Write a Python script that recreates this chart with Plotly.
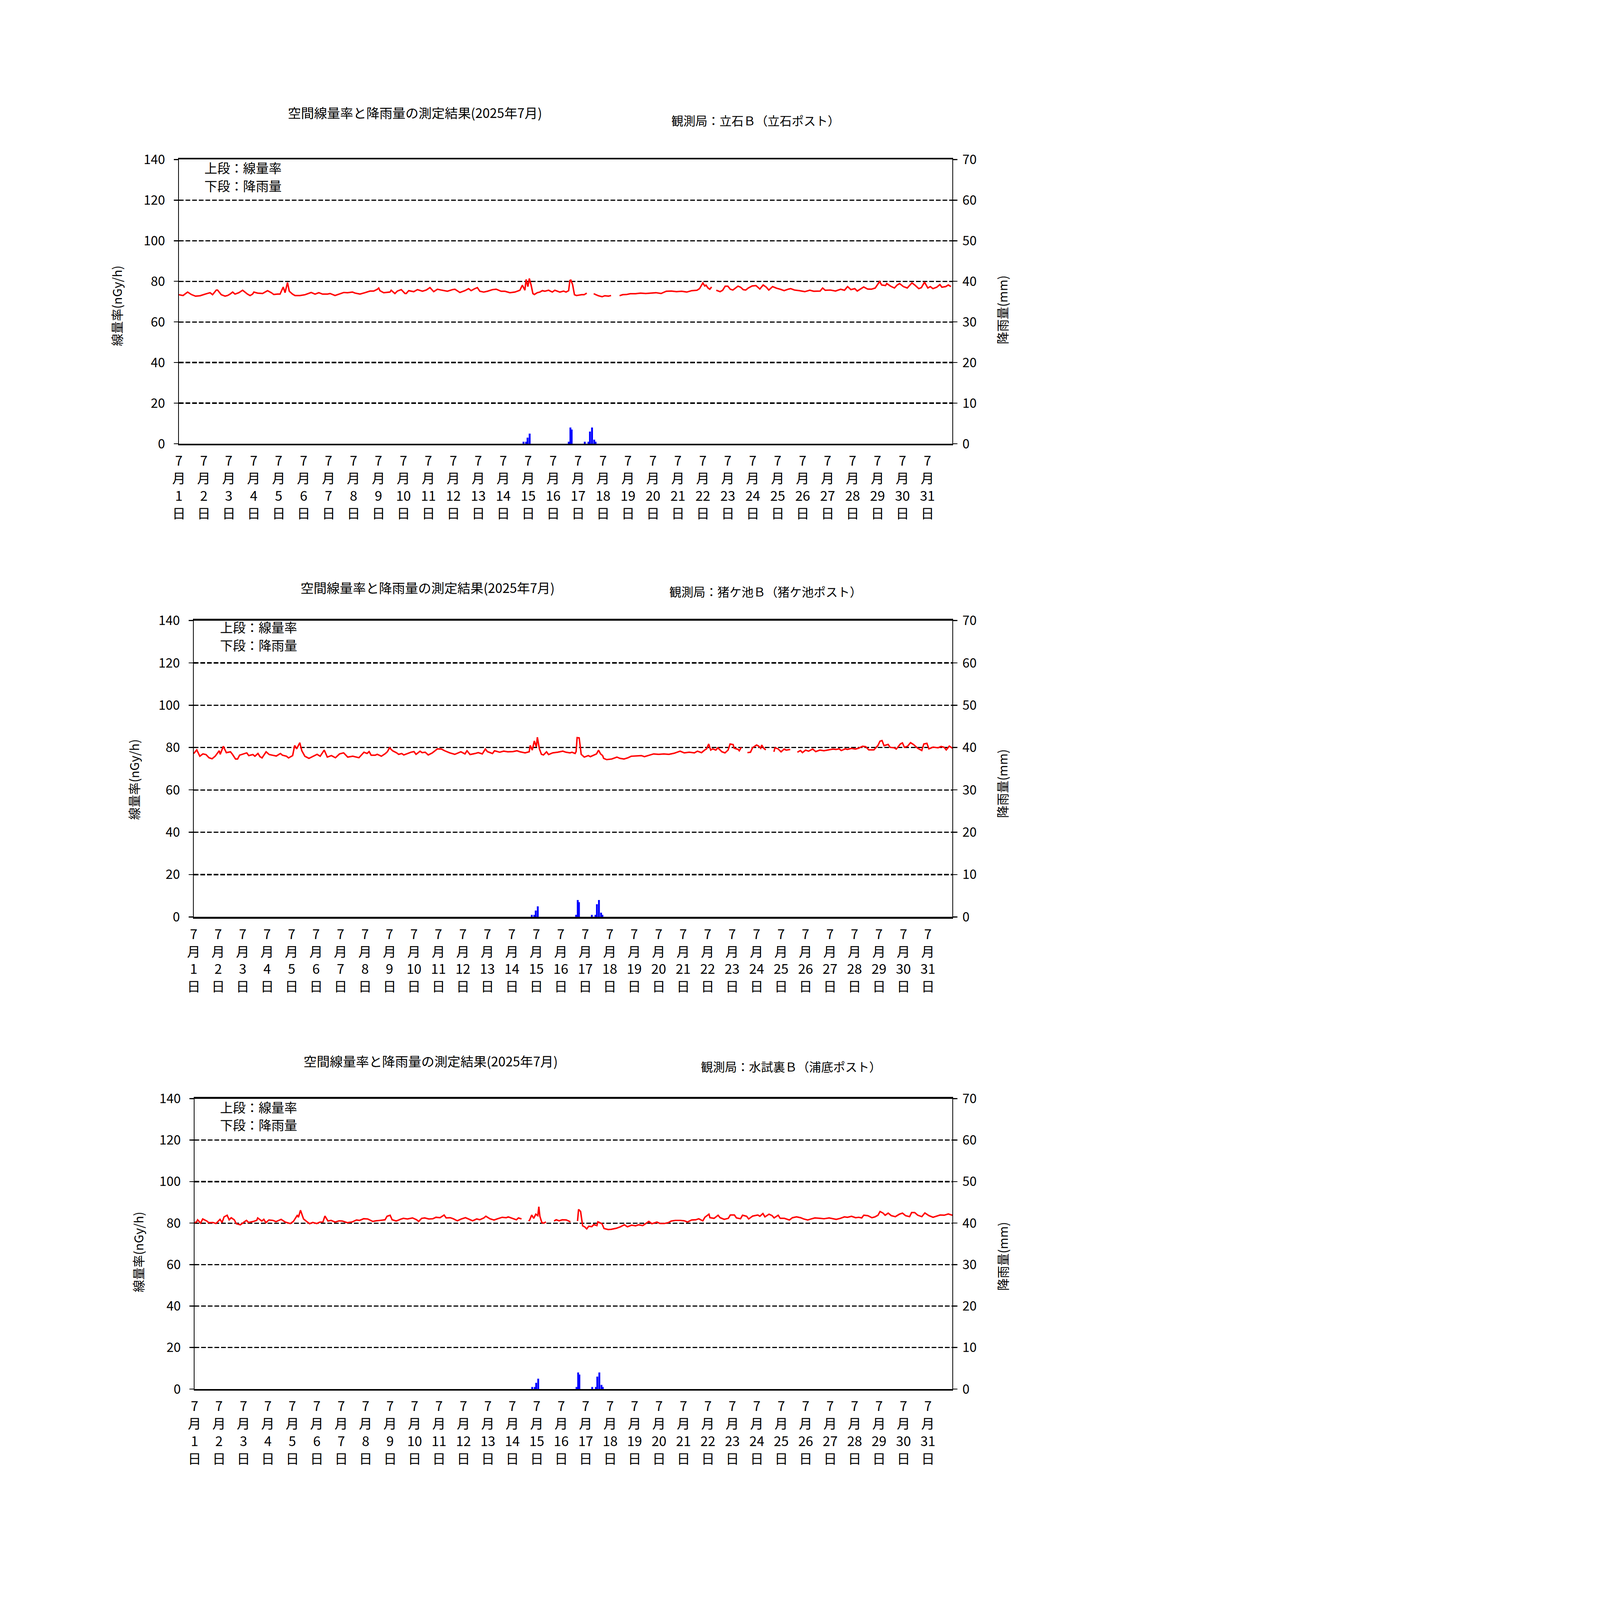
import plotly.graph_objects as go

W, H = 5452, 7710
FONT = "Noto Sans CJK JP"

TITLE = "空間線量率と降雨量の測定結果(2025年7月)"
STATIONS = ["観測局：立石Ｂ（立石ポスト）", "観測局：猪ケ池Ｂ（猪ケ池ポスト）", "観測局：水試裏Ｂ（浦底ポスト）"]
LEGEND_TOP = "上段：線量率"
LEGEND_BOTTOM = "下段：降雨量"
Y_LEFT_TITLE = "線量率(nGy/h)"
Y_RIGHT_TITLE = "降雨量(mm)"

DAYS = list(range(1, 32))
TICK_HOURS = [(d - 1) * 24 for d in DAYS]
TICK_TEXT = ["7<br>月<br>%d<br>日" % d for d in DAYS]

# ---- 立石B : hours from 7/1 00:00, dose rate nGy/h (None = missing) ----
HOURS_1 = [0, 4, 8.4, 12, 16, 20.4, 25.2, 30, 32.4, 36, 37.2, 40.8, 44.4, 46.8, 49.2, 51.7, 54, 57.7,
           61.3, 63.7, 66, 68.5, 70.9, 72.1, 75.7, 80.5, 85.3, 88.9, 91.3, 94.9, 97.3, 100.4, 102.1,
           104.5, 106.2, 109.3, 111.7, 116.5, 118.9, 121.3, 127.3, 131, 134.6, 138.2, 143, 145.4,
           150.2, 155, 158.6, 162.2, 167, 169.4, 174.2, 179, 183.8, 187.4, 191, 192.2, 193.4, 197,
           203, 204.2, 207.8, 210.2, 213.9, 217.5, 218.7, 221.1, 225.9, 229.5, 234.3, 237.9, 241.5,
           245.1, 248.7, 252.3, 258.3, 263.1, 265.5, 270.3, 275.1, 278.7, 281.1, 284.7, 287.1, 289.5,
           293.2, 296.8, 301.6, 305.2, 310, 313.6, 318.4, 323.2, 328, 330.4, 332.8, 334, 335.7, 337.1,
           338.8, 340.5, 341.9, 344.8, 347.2, 349.6, 352, 355.6, 359.2, 361.6, 366.4, 370, 372.4,
           374.9, 376.1, 377, 378.7, 380.5, 382.4, 384.9, 387.4, 389.8, 392.3, 395,
           399, 400.9, 403.4, 407.1, 409.6, 413.3, 415.7, 420,
           423.9, 426.8, 430.5, 434.2, 439.2, 444.1, 449, 454, 458.9, 463.8, 468.8, 473.7, 478.6,
           483.6, 488.5, 493.4, 498.4, 500.8, 504, 505.8, 507, 509, 510.7, 512.4, 514,
           516.9, 520.6, 523, 525.5, 528, 530.4, 532.9, 535.4, 537.8, 540.3, 542.8, 545.2, 547.7,
           551.4, 555.1, 558.8, 562, 565, 567.4, 571.1, 574.8, 578.5, 582.2, 585.9, 588.4, 592.1,
           597, 602, 606.9, 610.6, 616.8, 619.2, 621.7, 626.6, 631.6, 636.5, 640.2, 643.2, 646.4,
           650.1, 652.5, 656.2, 658.7, 662.4, 666.1, 669.8, 672.3, 674, 676, 679.7, 680.9, 684.6,
           688.3, 690.8, 693.2, 696.9, 700.6, 705.1, 708, 711.7, 714.2, 717.2, 720.4, 722.8, 725.3,
           729, 732, 733.9, 737.6, 740.1, 742.6]
DOSE_1 = [73.4, 73.0, 74.7, 73.5, 72.7, 72.9, 73.7, 74.4, 73.4, 75.7, 75.7, 73.4, 72.7, 73.0, 73.7, 74.7, 73.7, 74.4,
          75.6, 74.7, 73.7, 73.0, 73.7, 74.7, 74.2, 74.0, 75.4, 74.4, 73.5, 73.7, 73.7, 77.2, 74.4,
          79.4, 75.1, 73.7, 73.0, 73.0, 73.2, 73.4, 74.5, 73.7, 74.4, 73.7, 73.7, 74.0,
          73.0, 73.9, 74.5, 74.4, 74.7, 74.2, 73.7, 74.4, 75.2, 75.2, 76.1, 76.7, 75.4, 74.4,
          74.7, 75.6, 74.0, 75.2, 75.9, 74.0, 74.0, 75.4, 74.9, 75.9, 75.1, 75.7, 76.9,
          74.9, 76.1, 75.7, 75.1, 75.9, 76.1, 74.5, 75.4, 76.4, 75.4, 76.4, 76.9, 75.1,
          74.7, 75.1, 75.9, 76.1, 75.1, 75.1, 74.4, 74.7, 75.6, 78.1, 75.6, 80.9, 77.4, 81.4,
          78.1, 74.0, 73.5, 74.4, 74.7, 75.4, 75.1, 75.6, 74.7, 75.6, 74.7, 75.2, 74.7,
          75.4, 80.4, 80.6, 78.4, 73.4, 73.0, 73.2, 73.4, 73.4, 74.2, None,
          73.9, 73.4, 72.9, 72.4, 72.9, 72.7, 73.0, None,
          72.9, 73.4, 73.5, 73.9, 73.9, 74.2, 74.0, 74.2, 74.4, 74.0, 75.1, 75.2, 74.9,
          75.1, 74.7, 75.4, 75.6, 76.4, 79.2, 77.7, 78.1, 76.7, 76.1, 77.2, None,
          75.6, 74.9, 75.6, 77.6, 77.6, 76.1, 75.7, 76.7, 77.6, 77.1, 75.9, 75.7, 76.7,
          77.7, 77.9, 76.2, 78.2, 77.1, 75.7, 77.4, 76.6, 76.1, 75.4, 76.1, 76.4, 75.7,
          75.4, 74.9, 75.6, 75.1, 75.2, 76.7, 75.6, 75.7, 75.2, 76.1, 75.6, 77.4, 75.9,
          76.4, 75.2, 76.4, 77.2, 76.2, 76.1, 76.7, 78.8, 79.9, 78.2, 77.9, 78.9, 77.6,
          76.7, 78.1, 78.9, 77.4, 76.7, 79.2, 78.1, 76.4, 76.9, 79.6, 76.7, 77.4, 76.4,
          77.1, 78.4, 77.1, 77.4, 78.2, 77.4]

# ---- 猪ケ池B ----
HOURS_2 = [0, 3, 6, 9, 12, 15, 18, 21, 25, 26, 29, 32, 36, 38, 41, 43, 45, 48, 52, 54, 58, 60, 63, 65, 67,
           71, 74, 77, 81, 85, 87, 91, 93, 97, 99, 101, 104, 106, 109, 113, 118, 121, 124, 128, 131,
           135, 139, 143, 147, 151, 156, 162, 167, 170, 172, 174, 178, 180, 184, 188, 190, 192, 195,
           199, 201, 204, 206, 210, 213, 216, 218, 222, 224, 227, 230, 234, 239, 243, 246, 251, 256,
           262, 266, 268, 271, 276, 279, 283, 286, 288, 291, 293, 295, 300, 304, 308, 313, 317, 320,
           325, 329, 330, 332, 334, 336, 337, 339, 341, 343, 346, 348, 352, 357, 362, 365, 369, 371,
           374, 375, 376, 378, 380, 383, 387, 389, 393, 395, 397, 399, 401, 402, 405, 410, 415, 418,
           422, 426, 429, 434, 439, 442, 447, 451, 456, 461, 466, 471, 477, 481, 486, 491, 494, 498,
           501, 503, 505, 507, 509, 512, 514, 518, 521, 524, 526, 529, 530, 534, 535, 537, 540,
           543, 546, 548, 552, 554, 556, 557, 559, 561, 565,
           569, 570, 573, 576, 579, 581, 585, 588,
           592, 595, 597, 600, 603, 607, 610, 614, 618, 622, 627, 630, 633, 635, 639, 641, 645, 649,
           652, 656, 659, 662, 667, 671, 673, 675, 677, 681, 683, 687, 689, 693, 695, 697, 700, 703,
           706, 710, 714, 716, 719, 721, 725, 730, 733, 736, 738, 741, 744]
DOSE_2 = [77.2, 78.9, 75.9, 77.0, 76.7, 75.2, 74.7, 75.9, 78.5, 76.8, 80.6, 77.6, 78.0, 76.8, 74.6, 74.6, 76.4, 76.8, 77.5, 76.2, 76.7, 75.9, 77.2, 75.7, 75.1,
          78.0, 76.7, 76.4, 76.0, 77.2, 76.4, 75.9, 75.1, 76.2, 81.0, 79.4, 82.3, 78.5, 75.9, 74.9, 76.2, 76.8, 75.9, 78.8, 75.5,
          76.2, 75.2, 77.0, 77.5, 75.5, 75.9, 75.2, 77.8, 77.2, 78.1, 76.4, 76.4, 76.8, 75.9, 77.2, 78.1, 79.9, 78.5,
          77.5, 76.8, 77.2, 76.5, 77.2, 77.8, 78.1, 76.8, 78.3, 77.6, 77.8, 76.5, 77.5, 79.4, 79.3, 78.5, 77.5, 76.8,
          78.0, 77.0, 78.5, 76.7, 77.2, 77.6, 77.0, 79.3, 78.1, 77.5, 77.2, 78.5, 77.8, 78.3, 78.0, 78.1, 78.5, 78.0,
          77.5, 78.0, 81.0, 78.8, 83.1, 80.4, 84.9, 79.4, 76.8, 76.5, 78.0, 76.7, 77.5, 77.8, 78.3, 77.8, 77.5, 77.8,
          77.2, 78.1, 84.7, 84.6, 76.8, 75.5, 76.2, 75.7, 76.5, 77.0, 78.8, 77.0, 76.2, 74.9, 74.3, 74.6, 75.5, 74.9,
          74.6, 75.2, 75.9, 76.0, 76.2, 75.7, 76.5, 77.0, 76.8, 77.0, 76.8, 77.3, 78.3, 77.5, 77.8, 77.5, 78.3, 77.6,
          78.8, 79.4, 81.7, 78.8, 79.4, 78.8, 79.9, 78.0, 77.5, 78.8, 81.7, 81.4, 79.7, 79.1, 78.5, 80.1, None,
          77.6, 77.8, 79.9, 81.2, 80.7, 79.7, 81.2, 79.7, 78.9, None,
          78.0, 79.9, 79.4, 78.0, 79.3, 78.8, 79.1, None,
          77.8, 78.6, 77.6, 78.8, 78.3, 79.3, 78.1, 78.8, 78.5, 78.8, 79.3, 79.1, 79.4, 78.6, 79.4, 79.1, 79.6, 79.3,
          79.7, 80.6, 80.4, 78.9, 78.9, 81.0, 83.0, 83.3, 80.9, 81.5, 80.1, 79.9, 79.3, 81.7, 82.2, 80.1, 80.6, 82.3,
          81.4, 79.7, 78.6, 81.7, 82.0, 79.4, 80.2, 79.9, 80.5, 80.1, 78.9, 80.7, 79.7]

# ---- 水試裏B ----
HOURS_3 = [0, 2, 3, 6, 8, 12, 14, 18, 21, 25, 27, 29, 32, 34, 36, 39, 41, 45, 48, 51, 53, 57, 61, 62, 66, 68,
           70, 73, 77, 80, 85, 89, 94, 97, 101, 102, 104, 107, 110, 113, 116, 120, 123, 126, 128, 131,
           134, 138, 142, 145, 150, 155, 159, 162, 166, 170, 175, 178, 182, 187, 189, 192, 194, 198,
           202, 205, 209, 214, 218, 220, 223, 226, 230, 234, 237, 241, 245, 247, 251, 254, 258, 262,
           266, 269, 273, 277, 280, 284, 286, 290, 294, 297, 302, 306, 308, 312, 316, 318, 321, 324,
           328, 329, 331, 333, 335, 337, 338, 339, 341, 343, 345, 349,
           353, 355, 358, 361, 365, 367, 369, 372,
           376, 377, 379, 381, 383, 385, 387, 390, 392, 395, 396, 400, 402, 406, 409, 414, 418,
           422, 425, 429, 433, 436, 440, 443, 446, 449, 454, 457, 461, 465, 468, 472, 477, 481, 484,
           488, 492, 495, 499, 501, 505, 506, 510, 514, 516, 520, 524, 526, 530, 532, 536, 538, 542,
           544, 548, 553, 555, 558, 560, 564, 567, 569, 573, 575, 579, 584, 587, 591, 595, 598, 602,
           606, 609, 614, 618, 623, 627, 630, 634, 638, 641, 645, 649, 652, 655, 657, 661, 665, 668,
           671, 673, 676, 678, 681, 684, 688, 692, 695, 698, 702, 704, 707, 710, 714, 717, 721, 725,
           728, 732, 736, 740, 744]
DOSE_3 = [80.2, 80.6, 81.6, 80.0, 82.0, 81.0, 80.2, 80.3, 79.8, 81.8, 80.3, 83.0, 83.8, 81.6, 82.6, 81.6, 79.7, 79.2, 80.3, 81.3, 80.3, 80.7, 81.3, 82.5, 81.0, 81.8,
          80.2, 81.5, 81.3, 80.7, 81.8, 80.5, 79.8, 80.8, 83.9, 82.8, 86.2, 82.0, 80.8, 79.7, 80.3, 79.8, 80.5, 80.5, 83.4, 81.0,
          81.3, 80.5, 81.1, 81.0, 80.2, 80.6, 81.5, 81.3, 82.1, 82.0, 80.8, 81.1, 81.3, 81.6, 83.3, 83.8, 81.6, 81.0,
          81.8, 82.3, 82.0, 82.5, 81.6, 80.8, 82.3, 82.5, 82.0, 82.1, 82.8, 82.6, 83.9, 82.5, 82.6, 82.1, 81.1, 82.0,
          82.6, 82.0, 81.1, 82.0, 81.6, 82.5, 83.3, 82.1, 81.5, 82.0, 82.8, 82.6, 83.0, 82.3, 81.6, 82.5, 82.0, None,
          81.0, 81.5, 83.9, 82.3, 84.3, 83.6, 87.9, 83.3, 80.2, 80.0, 80.6, None,
          81.0, 81.6, 81.1, 81.6, 81.5, 81.0, 80.6, None,
          81.0, 86.6, 85.6, 78.7, 78.2, 77.2, 78.5, 78.3, 79.3, 78.8, 80.6, 79.7, 77.4, 76.9, 77.0, 77.5, 78.2,
          79.2, 78.2, 79.0, 78.7, 79.2, 78.8, 79.7, 80.8, 79.7, 80.5, 79.8, 79.8, 80.2, 81.0, 81.3, 81.3, 81.1, 80.5,
          81.5, 81.6, 82.1, 81.1, 82.8, 84.3, 82.6, 82.3, 83.8, 82.6, 81.8, 82.3, 83.9, 83.9, 82.5, 82.1, 83.8, 83.3,
          82.0, 83.4, 83.9, 83.3, 84.6, 83.0, 84.3, 83.6, 82.5, 83.8, 82.3, 82.3, 81.5, 82.6, 83.0, 82.6, 82.0, 81.5,
          82.1, 82.5, 82.3, 82.1, 82.5, 82.0, 81.8, 82.3, 83.0, 82.8, 83.3, 82.6, 82.8, 82.5, 83.8, 83.6, 82.6, 83.0,
          83.8, 85.6, 84.8, 83.8, 84.8, 83.6, 83.1, 84.3, 84.8, 83.6, 83.1, 85.1, 85.1, 83.8, 83.1, 84.9, 83.6, 82.8,
          83.3, 83.9, 83.8, 84.4, 83.8]

# ---- rainfall (mm), same events at all three stations ----
RAIN_HOURS = [331.5, 334, 335.4, 337.4, 375, 376.6, 377.8, 390.4, 394, 395.4, 397.4, 399.5, 400.8]
RAIN_MM = [0.5, 0.5, 1.5, 2.5, 0.5, 4.0, 3.5, 0.5, 0.5, 3.0, 4.0, 1.0, 0.5]

DOSE_TICKS = [0, 20, 40, 60, 80, 100, 120, 140]
RAIN_TICKS = [0, 10, 20, 30, 40, 50, 60, 70]

SERIES = [(HOURS_1, DOSE_1), (HOURS_2, DOSE_2), (HOURS_3, DOSE_3)]

# panel geometry in page pixels
PANELS = [
    dict(x0=834, x1=4584, y0=727, y1=2113, title=(1978, 497), station=(3630, 536),
         leg=(956, 766, 853), ytl=(530, 1440), ytr=(4825, 1460)),
    dict(x0=906, x1=4584, y0=2975, y1=4420, title=(2040, 2812), station=(3678, 2832),
         leg=(1031, 3005, 3093), ytl=(614, 3750), ytr=(4825, 3770)),
    dict(x0=910, x1=4584, y0=5306, y1=6722, title=(2055, 5120), station=(3802, 5149),
         leg=(1031, 5345, 5431), ytl=(635, 6054), ytr=(4825, 6075)),
]


def px(x):
    return x / W


def py(y):
    return 1 - y / H


fig = go.Figure()
layout = dict(width=W, height=H, margin=dict(l=0, r=0, t=0, b=0), paper_bgcolor="white",
              plot_bgcolor="white", showlegend=False, font=dict(family=FONT, color="black", size=60))
annotations = []

for i, (p, (hrs, dose)) in enumerate(zip(PANELS, SERIES)):
    xa = "x" if i == 0 else "x%d" % (i + 1)
    yl = "y" if i == 0 else "y%d" % (2 * i + 1)
    yr = "y%d" % (2 * i + 2)
    xkey = "xaxis" if i == 0 else "xaxis%d" % (i + 1)
    ylkey = "yaxis" if i == 0 else "yaxis%d" % (2 * i + 1)
    yrkey = "yaxis%d" % (2 * i + 2)

    fig.add_trace(go.Bar(x=RAIN_HOURS, y=RAIN_MM, xaxis=xa, yaxis=yr, width=1.8,
                         marker=dict(color="#0000FF", line=dict(width=0))))
    fig.add_trace(go.Scatter(x=hrs, y=dose, xaxis=xa, yaxis=yl, mode="lines",
                             line=dict(color="#FF0000", width=7), connectgaps=False))

    layout[xkey] = dict(domain=[px(p["x0"]), px(p["x1"])], anchor=yl, range=[0, 744],
                        showgrid=False, zeroline=False, showline=True, mirror=True,
                        linecolor="black", linewidth=8, ticks="", tickvals=TICK_HOURS,
                        ticktext=TICK_TEXT, tickangle=0, tickfont=dict(size=65, family=FONT),
                        ticklabelstandoff=20)
    layout[ylkey] = dict(domain=[py(p["y1"]), py(p["y0"])], anchor=xa, range=[0, 140],
                         tickvals=DOSE_TICKS, showgrid=True, gridcolor="black", gridwidth=6,
                         griddash="22px,10px", zeroline=False, showline=True, linecolor="black",
                         linewidth=4, ticks="outside", ticklen=20, tickwidth=5, tickcolor="black",
                         tickfont=dict(size=62, family=FONT), ticklabelstandoff=30)
    layout[yrkey] = dict(overlaying=yl, side="right", anchor=xa, range=[0, 70],
                         tickvals=RAIN_TICKS, showgrid=False, zeroline=False, showline=True,
                         linecolor="black", linewidth=4, ticks="outside", ticklen=20, tickwidth=5,
                         tickcolor="black", tickfont=dict(size=62, family=FONT),
                         ticklabelstandoff=12)

    annotations.append(dict(x=px(p["title"][0]), y=py(p["title"][1]), xref="paper", yref="paper",
                            text=TITLE, showarrow=False, xanchor="center", yanchor="middle",
                            font=dict(size=63)))
    annotations.append(dict(x=px(p["station"][0]), y=py(p["station"][1]), xref="paper", yref="paper",
                            text=STATIONS[i], showarrow=False, xanchor="center", yanchor="middle",
                            font=dict(size=58)))
    annotations.append(dict(x=px(p["leg"][0]), y=py(p["leg"][1]), xref="paper", yref="paper",
                            text=LEGEND_TOP, showarrow=False, xanchor="left", yanchor="middle",
                            font=dict(size=62)))
    annotations.append(dict(x=px(p["leg"][0]), y=py(p["leg"][2]), xref="paper", yref="paper",
                            text=LEGEND_BOTTOM, showarrow=False, xanchor="left", yanchor="middle",
                            font=dict(size=62)))
    annotations.append(dict(x=px(p["ytl"][0]), y=py(p["ytl"][1]), xref="paper", yref="paper",
                            text=Y_LEFT_TITLE, showarrow=False, textangle=-90, xanchor="center",
                            yanchor="middle", font=dict(size=60)))
    annotations.append(dict(x=px(p["ytr"][0]), y=py(p["ytr"][1]), xref="paper", yref="paper",
                            text=Y_RIGHT_TITLE, showarrow=False, textangle=-90, xanchor="center",
                            yanchor="middle", font=dict(size=60)))

layout["annotations"] = annotations
fig.update_layout(**layout)

# keep the whole fixed-size page visible if the viewport is smaller than the figure
FIT_SCRIPT = """
(function(){
  var gd = document.getElementById('{plot_id}');
  document.body.style.margin = '0';
  document.documentElement.style.overflow = 'hidden';
  gd.style.position = 'absolute';
  gd.style.left = '0px';
  gd.style.top = '0px';
  function fit(){
    var s = Math.min(window.innerWidth / %d, window.innerHeight / %d);
    if (s > 0 && s < 0.999) {
      gd.style.transformOrigin = '0 0';
      gd.style.transform = 'scale(' + s + ')';
    } else {
      gd.style.transform = '';
    }
  }
  fit();
  window.addEventListener('resize', fit);
})();
""" % (W, H)

fig.write_html("out.html", post_script=FIT_SCRIPT, config={"displayModeBar": False})
